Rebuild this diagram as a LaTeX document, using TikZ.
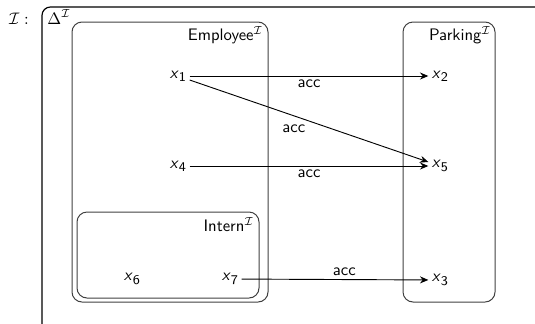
\documentclass[tikz,border=0pt]{standalone}
\usepackage{sansmath}
\usetikzlibrary{arrows.meta}
% individual names: slanted sans x with a sans index
\newcommand{\indiv}[1]{\textsl{x}\raisebox{-0.45ex}{\footnotesize #1}}
\tikzset{
  setbox/.style={draw=black!75, line width=0.6pt, rounded corners=6pt},
  domainbox/.style={draw=black, line width=0.7pt, rounded corners=5pt},
  elem/.style={inner sep=2pt, font=\sffamily},
  setlabel/.style={inner sep=0pt, font=\sffamily\sansmath},
  accarrow/.style={-{Stealth[length=5pt,width=4.2pt]}, line width=0.55pt},
  acclabel/.style={font=\sffamily, inner sep=2pt}
}
\begin{document}
\begin{tikzpicture}[x=0.6pt,y=-0.6pt]
  \useasboundingbox (0,0) rectangle (535,323);
  \clip (0,0) rectangle (535,323);
  % domain and its label
  \node[setlabel] (interp) at (19,19) {$\mathcal{I}:$};
  \draw[domainbox] (42,7) rectangle (560,345);
  \node[setlabel] (delta) at (59,17) {$\Delta^{\mathcal{I}}$};
  % concept extensions
  \draw[setbox] (72,22) rectangle (268,302);
  \node[setlabel, anchor=north east] (employee) at (263,26) {Employee$^{\mathcal{I}}$};
  \draw[setbox] (403,22) rectangle (495,302);
  \node[setlabel, anchor=north east] (parking) at (491,26) {Parking$^{\mathcal{I}}$};
  \draw[setbox] (77,212) rectangle (259,298);
  \node[setlabel, anchor=north east] (intern) at (254,217) {Intern$^{\mathcal{I}}$};
  % individuals
  \node[elem] (x1) at (178,76) {\indiv{1}};
  \node[elem] (x2) at (440,76) {\indiv{2}};
  \node[elem] (x4) at (178,166) {\indiv{4}};
  \node[elem] (x5) at (440,166) {\indiv{5}};
  \node[elem] (x6) at (132,279) {\indiv{6}};
  \node[elem] (x7) at (230,279) {\indiv{7}};
  \node[elem] (x3) at (440,280) {\indiv{3}};
  % role assertions
  \draw[accarrow] (x1) -- (x2) node[acclabel, midway, below] {acc};
  \draw[accarrow] (x1) -- (x5) node[acclabel, midway, below left] {acc};
  \draw[accarrow] (x4) -- (x5) node[acclabel, midway, below] {acc};
  \draw[accarrow] (x7) -- (x3) node[acclabel, pos=0.55, above] {acc};
\end{tikzpicture}
\end{document}
